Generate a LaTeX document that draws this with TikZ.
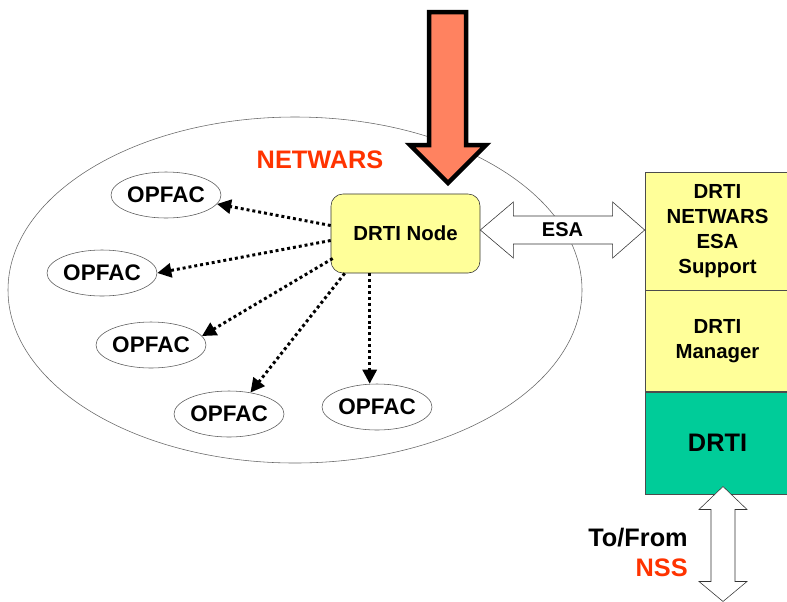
\documentclass[tikz,border=0pt]{standalone}
\usepackage{fontspec}
\setmainfont{Liberation Sans}
\usetikzlibrary{arrows.meta,positioning,calc,shapes.geometric}

\definecolor{paleyellow}{RGB}{255,255,153}
\definecolor{drtigreen}{RGB}{0,204,153}
\definecolor{netred}{RGB}{255,51,0}
\definecolor{salmon}{RGB}{255,130,96}

\begin{document}
\begin{tikzpicture}[>={Triangle[length=10pt,width=10pt]},x=0.025cm,y=-0.025cm]
  \tikzstyle{opfac}=[draw=black!65,ellipse,minimum width=2.75cm,minimum height=1.15cm,inner sep=0pt,font=\bfseries\fontsize{16}{19}\selectfont]
  \tikzstyle{layer}=[draw=black!70,minimum width=3.625cm,align=center,inner sep=0pt,font=\bfseries\fontsize{14.5}{17.8}\selectfont]
  \tikzstyle{dots}=[->,line width=2.1pt,dash pattern=on 2.1pt off 2.1pt]
  \tikzstyle{hollow}=[draw=black!80,fill=white,line join=miter]
  \useasboundingbox (0,0) rectangle (787,601);
  \draw[black!60] (295,290) ellipse [x radius=287,y radius=173];
  \node[text=netred,font=\bfseries\fontsize{18}{21}\selectfont] (nw) at (320,160) {NETWARS};
  \node[opfac] (o1) at (166,195) {OPFAC};
  \node[opfac] (o2) at (102,273) {OPFAC};
  \node[opfac] (o3) at (151,345) {OPFAC};
  \node[opfac] (o4) at (229,414) {OPFAC};
  \node[opfac] (o5) at (377,407) {OPFAC};
  \node[draw=black!80,fill=paleyellow,rounded corners=0.3cm,minimum width=3.725cm,minimum height=1.975cm,font=\bfseries\fontsize{14.5}{17}\selectfont] (dn) at (405.5,233.5) {DRTI Node};
  \draw[dots] ($(dn.west)+(0,-8)$) -- (o1.-10);
  \draw[dots] ($(dn.west)+(0,7)$) -- (o2.east);
  \draw[dots] ($(dn.west)+(2,25)$) -- (o3.10);
  \draw[dots] ($(dn.south west)+(14,0)$) -- (o4.45);
  \coordinate (d5) at ($(dn.south west)+(39,0)$);
  \draw[dots] (d5) -- (d5 |- o5.north);
  % feed into the node
  \draw[line width=3.2pt,fill=salmon,line join=miter] (429,12) -- (466,12) -- (466,145) -- (486,145) -- (448,183) -- (410,145) -- (429,145) -- cycle;
  % right hand stack
  \node[layer,fill=paleyellow,minimum height=2.95cm] (esasup) at (717.5,231) {DRTI\\NETWARS\\ESA\\Support};
  \node[layer,fill=paleyellow,minimum height=2.525cm,below=0pt of esasup] (mgr) {DRTI\\Manager};
  \node[layer,fill=drtigreen,minimum height=2.55cm,below=0pt of mgr,font=\bfseries\fontsize{18}{21}\selectfont] (drti) {DRTI};
  \coordinate (el) at ($(dn.east)+(0,-3.5)$);
  \coordinate (er) at ($(esasup.west)+(0,-1)$);
  \draw[hollow] (el) -- ++(33,-28) -- ++(0,14) -- ($(er)+(-32,-14)$) -- ++(0,-14) -- (er) -- ++(-32,28) -- ++(0,-14) -- ($(el)+(33,14)$) -- ++(0,14) -- cycle;
  \node[font=\bfseries\fontsize{14.2}{17}\selectfont] (esa) at ($(el)!0.5!(er)$) {ESA};
  \coordinate (vt) at ($(drti.south)+(5.5,-8)$);
  \draw[hollow] (vt) -- ++(24,23) -- ++(-12,0) -- ++(0,72) -- ++(12,0) -- ++(-24,20) -- ++(-24,-20) -- ++(12,0) -- ++(0,-72) -- ++(-12,0) -- cycle;
  \node[anchor=east,inner sep=0pt,font=\bfseries\fontsize{18}{21}\selectfont] (tofrom) at (688,538) {To/From};
  \node[anchor=east,inner sep=0pt,text=netred,font=\bfseries\fontsize{18}{21}\selectfont] (nss) at (688,568) {NSS};
\end{tikzpicture}
\end{document}
